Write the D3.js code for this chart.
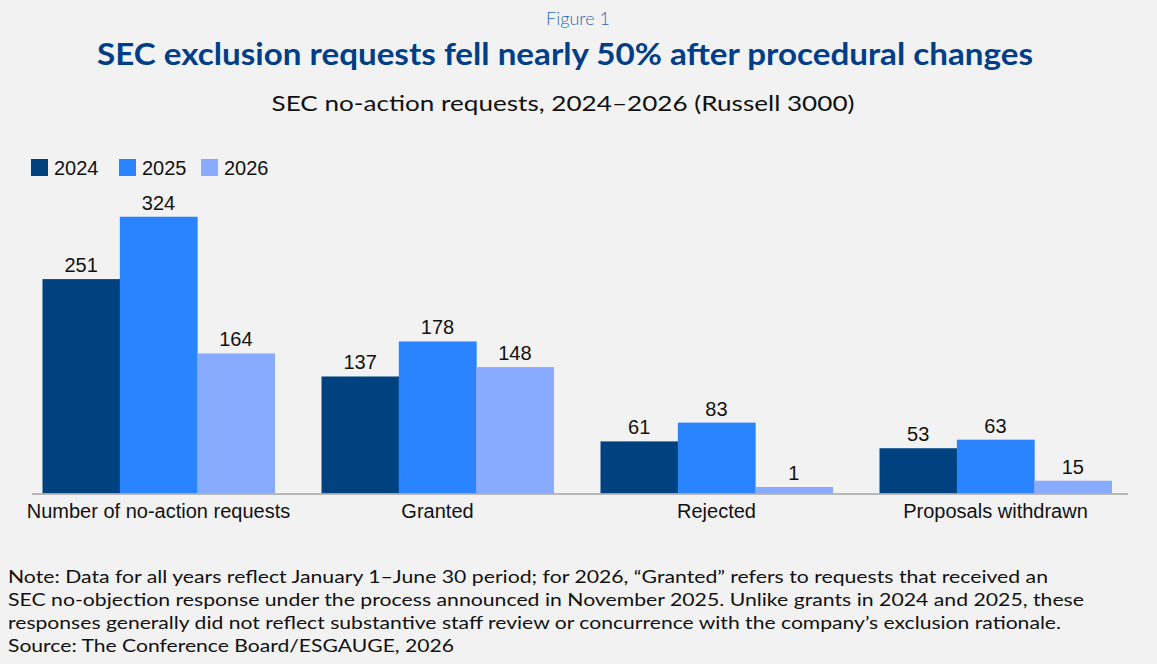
<!DOCTYPE html>
<html><head><meta charset="utf-8">
<script src="https://cdn.jsdelivr.net/npm/d3@7"></script>
<style>
html,body{margin:0;padding:0;background:#f2f2f2;}
svg{display:block;}
</style></head>
<body>
<svg id="chart" width="1157" height="664"></svg>
<script>
const categories = ["Number of no-action requests", "Granted", "Rejected", "Proposals withdrawn"];
const seriesNames = ["2024", "2025", "2026"];
const values2024 = [251, 137, 61, 53];
const values2025 = [324, 178, 83, 63];
const values2026 = [164, 148, 1, 15];
const colors = ["#00427f", "#2a84ff", "#88aaff"];
const figureLabel = "Figure 1";
const titleText = "SEC exclusion requests fell nearly 50% after procedural changes";
const subtitleText = "SEC no-action requests, 2024\u20132026 (Russell 3000)";
const noteLines = [
  "Note: Data for all years reflect January 1\u2013June 30 period; for 2026, \u201cGranted\u201d refers to requests that received an",
  "SEC no-objection response under the process announced in November 2025. Unlike grants in 2024 and 2025, these",
  "responses generally did not reflect substantive staff review or concurrence with the company\u2019s exclusion rationale.",
  "Source: The Conference Board/ESGAUGE, 2026"
];

const seriesValues = [values2024, values2025, values2026];
const data = categories.map((c, i) => ({cat: c, vals: seriesNames.map((s, j) => ({key: s, value: seriesValues[j][i], idx: j}))}));

const svg = d3.select("#chart");
const W = 1157;
const headFont = "Lato, 'Noto Sans', sans-serif";
const chartFont = "'Liberation Sans', Arial, sans-serif";

svg.append("rect").attr("width", W).attr("height", 664).attr("fill", "#f2f2f2");

svg.append("text").attr("x", 578).attr("y", 25).attr("text-anchor", "middle")
  .attr("font-family", headFont).attr("font-weight", 300).attr("font-size", 18)
  .attr("fill", "#2d6bb5").text(figureLabel);

svg.append("text").attr("x", 565).attr("y", 65).attr("text-anchor", "middle")
  .attr("font-family", headFont).attr("font-weight", 700).attr("font-size", 30)
  .attr("fill", "#003f88").attr("textLength", 936).attr("lengthAdjust", "spacingAndGlyphs").text(titleText);

svg.append("text").attr("x", 563).attr("y", 111).attr("text-anchor", "middle")
  .attr("font-family", headFont).attr("font-weight", 400).attr("font-size", 22)
  .attr("fill", "#111").attr("textLength", 583).attr("lengthAdjust", "spacingAndGlyphs").text(subtitleText);

// legend
const legendX = [31, 119, 201];
seriesNames.forEach((s, i) => {
  svg.append("rect").attr("x", legendX[i]).attr("y", 159).attr("width", 17).attr("height", 17).attr("fill", colors[i]);
  svg.append("text").attr("x", legendX[i] + 23).attr("y", 175)
    .attr("font-family", chartFont).attr("font-size", 20).attr("fill", "#111").text(s);
});

const x0 = d3.scaleBand().domain(categories).range([32, 1122]).paddingInner(0.1685).paddingOuter(0.0376);
const x1 = d3.scaleBand().domain(seriesNames).range([0, x0.bandwidth()]);
const y = d3.scaleLinear().domain([0, 360]).range([493.5, 186]);
const minH = 6.5;

const g = svg.append("g");
const groups = g.selectAll("g.grp").data(data).join("g").attr("class", "grp")
  .attr("transform", d => `translate(${x0(d.cat)},0)`);

groups.selectAll("rect").data(d => d.vals).join("rect")
  .attr("x", d => x1(d.key))
  .attr("width", x1.bandwidth() + 0.5)
  .attr("y", d => Math.min(y(d.value), y(0) - minH))
  .attr("height", d => Math.max(y(0) - y(d.value), minH))
  .attr("fill", d => colors[d.idx]);

groups.selectAll("text").data(d => d.vals).join("text")
  .attr("x", d => x1(d.key) + x1.bandwidth() / 2)
  .attr("y", d => Math.min(y(d.value), y(0) - minH) - 7)
  .attr("text-anchor", "middle")
  .attr("font-family", chartFont).attr("font-size", 20).attr("fill", "#111")
  .text(d => d.value);

// axis
const axis = svg.append("g").attr("transform", `translate(0,${y(0)})`)
  .call(d3.axisBottom(x0).tickSize(0).tickPadding(10).tickSizeOuter(0));
axis.select(".domain").remove();
axis.append("line").attr("x1", 32).attr("x2", 1128).attr("y1", 0.5).attr("y2", 0.5)
  .attr("stroke", "#a6a6a6").attr("stroke-width", 1.5);
axis.selectAll("text").attr("font-family", chartFont).attr("font-size", 20).attr("fill", "#111");

// notes
const noteLen = [1040, 1076, 1053, 446];
noteLines.forEach((t, i) => {
  svg.append("text").attr("x", 8).attr("y", 583 + i * 23)
    .attr("font-family", headFont).attr("font-size", 18).attr("fill", "#111")
    .attr("textLength", noteLen[i]).attr("lengthAdjust", "spacingAndGlyphs").text(t);
});
</script>
</body></html>
